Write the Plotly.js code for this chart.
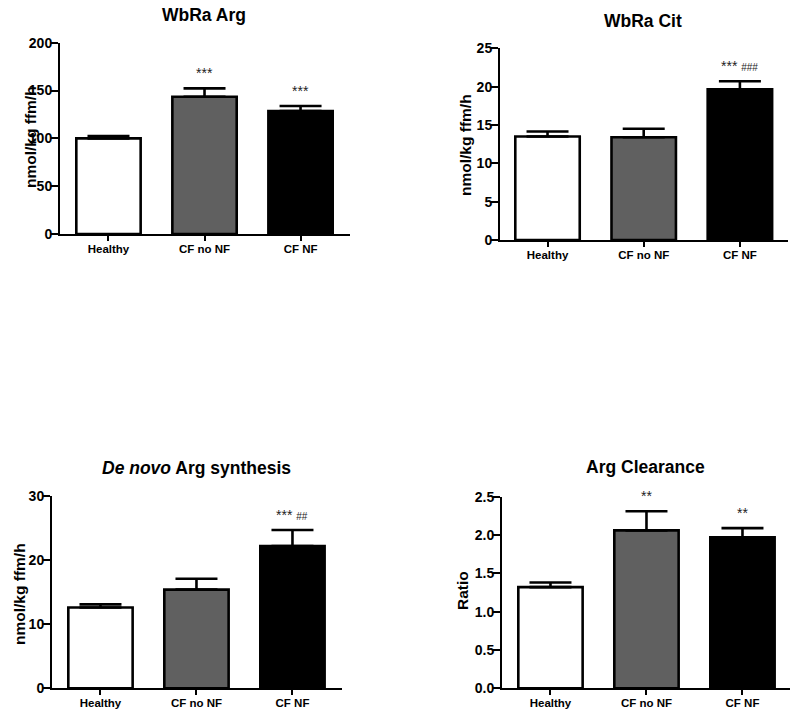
<!DOCTYPE html>
<html>
<head>
<meta charset="utf-8">
<script src="https://cdn.plot.ly/plotly-3.0.1.min.js"></script>
<style>html,body{margin:0;padding:0;background:#fff;}#chart{width:800px;height:717px;}</style>
</head>
<body>
<div id="chart"></div>
<script>
const groups = ["Healthy", "CF no NF", "CF NF"];
const barColors = ["#ffffff", "#606060", "#000000"];

const panelTitles = ["WbRa Arg", "WbRa Cit", "<i>De novo</i> Arg synthesis", "Arg Clearance"];
const yTitles = ["nmol/kg ffm/h", "nmol/kg ffm/h", "nmol/kg ffm/h", "Ratio"];

const argMean = [100, 143.5, 128.5];
const argSem = [2.4, 8.7, 5.3];
const citMean = [13.5, 13.4, 19.65];
const citSem = [0.65, 1.1, 1.05];
const synthMean = [12.6, 15.4, 22.2];
const synthSem = [0.5, 1.7, 2.5];
const clearMean = [1.32, 2.06, 1.97];
const clearSem = [0.06, 0.25, 0.12];

const argSig = ["", "***", "***"];
const citSig = ["", "", "*** <span style='font-size:10px'>###</span>"];
const synthSig = ["", "", "*** <span style='font-size:10px'>##</span>"];
const clearSig = ["", "**", "**"];

const yRanges = [[0, 200], [0, 25], [0, 30], [0, 2.5]];
const yDticks = [50, 5, 10, 0.5];
const yFormats = ["", "", "", ".1f"];

const means = [argMean, citMean, synthMean, clearMean];
const sems = [argSem, citSem, synthSem, clearSem];
const sigs = [argSig, citSig, synthSig, clearSig];

const W = 800, H = 717;
// pixel boxes of plot areas [x0, x1, yTop, yBottom]
const boxes = [[60, 350, 42.7, 234], [500, 788, 48.3, 240], [52, 342, 496, 688.3], [502, 790, 496.7, 688.3]];
const xRanges = [[-0.505, 2.515], [-0.494, 2.50], [-0.505, 2.516], [-0.505, 2.495]];
const titlePos = [[204, 15], [643, 21], [196, 468], [645, 467]];
const yTitlePos = [[30, 137], [465, 145], [19, 594], [462, 591]];

const FONT = "Liberation Sans, Arial, Helvetica, sans-serif";
const traces = [];
const layout = {
  width: W, height: H,
  margin: {l: 0, r: 0, t: 0, b: 0},
  paper_bgcolor: "#fff", plot_bgcolor: "#fff",
  showlegend: false,
  font: {family: FONT, color: "#000"},
  annotations: []
};

for (let p = 0; p < 4; p++) {
  const sfx = p === 0 ? "" : String(p + 1);
  const b = boxes[p];
  traces.push({
    type: "bar",
    x: groups,
    y: means[p],
    xaxis: "x" + sfx,
    yaxis: "y" + sfx,
    width: 0.67,
    marker: {color: barColors, line: {color: "#000", width: 2.6}},
    error_y: {type: "data", symmetric: false, array: sems[p], arrayminus: [0, 0, 0],
              color: "#000", thickness: 2.6, width: 21},
    hoverinfo: "x+y"
  });
  layout["xaxis" + sfx] = {
    domain: [b[0] / W, b[1] / W],
    anchor: "y" + sfx,
    range: xRanges[p],
    type: "category",
    showline: true, linewidth: 2, linecolor: "#000",
    ticks: "outside", ticklen: 5, tickwidth: 2, tickcolor: "#000",
    ticklabelstandoff: -2,
    showgrid: false, zeroline: false,
    tickfont: {family: FONT, size: 11.5, weight: "bold", color: "#000"},
    fixedrange: true
  };
  layout["yaxis" + sfx] = {
    domain: [1 - b[3] / H, 1 - b[2] / H],
    anchor: "x" + sfx,
    range: yRanges[p],
    dtick: yDticks[p],
    tick0: 0,
    tickformat: yFormats[p],
    showline: true, linewidth: 2, linecolor: "#000",
    ticks: "outside", ticklen: 7, tickwidth: 2, tickcolor: "#000",
    ticklabelstandoff: -4,
    showgrid: false, zeroline: false,
    tickfont: {family: FONT, size: 14, weight: "bold", color: "#000"},
    fixedrange: true
  };
  layout.annotations.push({
    xref: "paper", yref: "paper",
    x: titlePos[p][0] / W, y: 1 - titlePos[p][1] / H,
    xanchor: "center", yanchor: "middle",
    text: panelTitles[p], showarrow: false,
    font: {family: FONT, size: 17.5, weight: "bold", color: "#000"}
  });
  layout.annotations.push({
    xref: "paper", yref: "paper",
    x: yTitlePos[p][0] / W, y: 1 - yTitlePos[p][1] / H,
    xanchor: "center", yanchor: "middle",
    textangle: -90,
    text: yTitles[p], showarrow: false,
    font: {family: FONT, size: 15.5, weight: "bold", color: "#000"}
  });
  for (let i = 0; i < groups.length; i++) {
    if (!sigs[p][i]) continue;
    layout.annotations.push({
      xref: "x" + sfx, yref: "y" + sfx,
      x: groups[i], y: means[p][i] + sems[p][i],
      xanchor: "center", yanchor: "bottom", yshift: 5,
      text: sigs[p][i], showarrow: false,
      font: {family: FONT, size: 14, color: "#222"}
    });
  }
}

Plotly.newPlot("chart", traces, layout, {displayModeBar: false, staticPlot: true});
</script>
</body>
</html>
